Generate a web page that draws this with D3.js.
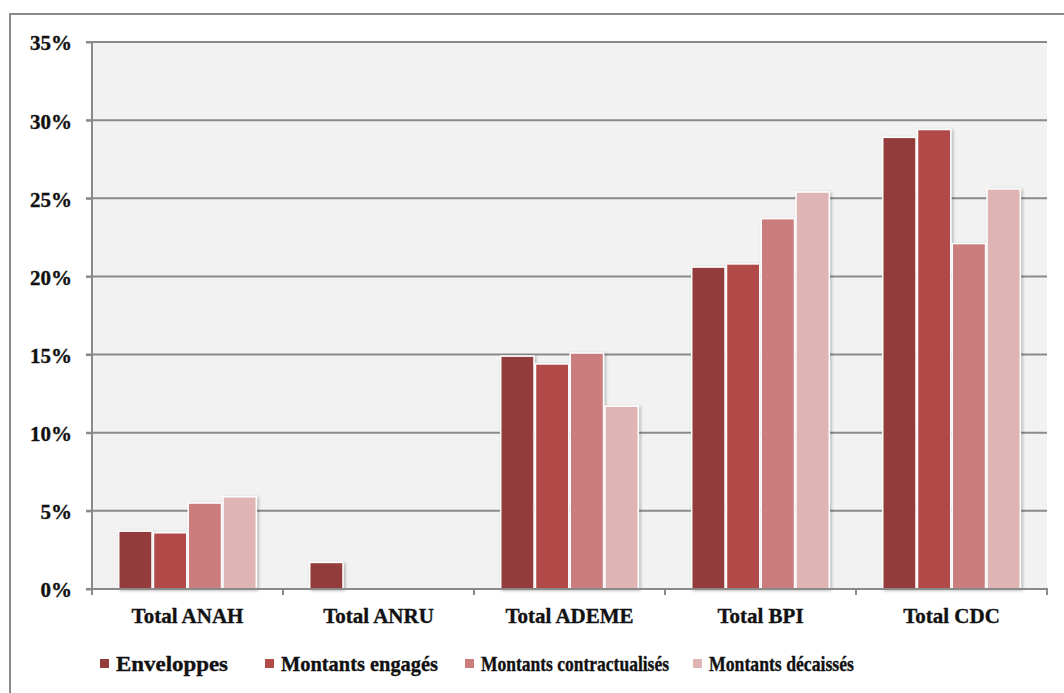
<!DOCTYPE html>
<html>
<head>
<meta charset="utf-8">
<script src="https://cdn.jsdelivr.net/npm/d3@7/dist/d3.min.js"></script>
<style>
  html, body { margin: 0; padding: 0; background: #fff; }
  svg { display: block; }
  text { font-family: "Liberation Serif", "DejaVu Serif", serif; font-weight: bold; fill: #111; stroke: #111; stroke-width: 0.35px; }
</style>
</head>
<body>
<svg id="chart" width="1064" height="693"></svg>
<script>
// Share of each financing body, by type of amount
const categories = ["Total ANAH", "Total ANRU", "Total ADEME", "Total BPI", "Total CDC"];
const seriesNames = ["Enveloppes", "Montants engagés", "Montants contractualisés", "Montants décaissés"];
const enveloppes      = [3.7, 1.7, 14.9, 20.6, 28.9];
const engages         = [3.6, 0,   14.4, 20.8, 29.4];
const contractualises = [5.5, 0,   15.1, 23.7, 22.1];
const decaisses       = [5.9, 0,   11.7, 25.4, 25.6];
const yTicks = [0, 5, 10, 15, 20, 25, 30, 35];
const colors = ["#943b3b", "#b24a48", "#cb7c7b", "#dfb4b4"];

const series = [enveloppes, engages, contractualises, decaisses];

const svg = d3.select("#chart");
const plot = { left: 92, right: 1047, top: 42, bottom: 589 };

// drop shadow for the bars
const defs = svg.append("defs");
const f = defs.append("filter").attr("id", "shadow")
  .attr("x", "-20%").attr("y", "-20%").attr("width", "140%").attr("height", "140%");
f.append("feDropShadow").attr("dx", 1.5).attr("dy", 1).attr("stdDeviation", 1.5)
  .attr("flood-color", "#000").attr("flood-opacity", 0.28);

// outer frame
svg.append("rect").attr("x", 10).attr("y", 14).attr("width", 1070).attr("height", 700)
  .attr("fill", "none").attr("stroke", "#898989").attr("stroke-width", 2);

// plot background
svg.append("rect").attr("x", plot.left).attr("y", plot.top)
  .attr("width", plot.right - plot.left).attr("height", plot.bottom - plot.top)
  .attr("fill", "#f2f2f2");

const y = d3.scaleLinear().domain([0, 35]).range([plot.bottom, plot.top]);
const x0 = d3.scaleBand().domain(categories).range([plot.left, plot.right])
  .paddingInner(0.272).paddingOuter(0.136);
const x1 = d3.scaleBand().domain(d3.range(series.length)).range([0, x0.bandwidth()]);

// gridlines
svg.append("g").selectAll("line").data(yTicks.filter(t => t > 0)).join("line")
  .attr("x1", plot.left - 6).attr("x2", plot.right)
  .attr("y1", d => y(d)).attr("y2", d => y(d))
  .attr("stroke", "#8a8a8a").attr("stroke-width", 2);

// y axis labels and ticks
const yAxis = d3.axisLeft(y).tickValues(yTicks).tickSize(6).tickPadding(14)
  .tickFormat(d => d + "%");
const gy = svg.append("g").attr("transform", `translate(${plot.left},0)`).call(yAxis);
gy.select(".domain").remove();
gy.selectAll(".tick line").attr("stroke", "#8a8a8a").attr("stroke-width", 2);
gy.selectAll(".tick text").attr("font-size", 21).attr("fill", "#111")
  .attr("font-family", "Liberation Serif, serif").attr("font-weight", "bold").attr("dy", "0.38em");

// bars
const groups = svg.append("g").selectAll("g").data(categories).join("g")
  .attr("transform", d => `translate(${x0(d)},0)`);
groups.selectAll("rect")
  .data((c, i) => series.map((s, k) => ({ k, v: s[i] })).filter(d => d.v > 0))
  .join("rect")
  .attr("x", d => x1(d.k) + 0.75)
  .attr("width", x1.bandwidth() - 1.5)
  .attr("y", d => y(d.v))
  .attr("height", d => y(0) - y(d.v))
  .attr("fill", d => colors[d.k])
  .attr("stroke", "#fff").attr("stroke-width", 1.5)
  .attr("filter", "url(#shadow)");

// axes lines
svg.append("line").attr("x1", plot.left).attr("x2", plot.left)
  .attr("y1", plot.top).attr("y2", plot.bottom + 6)
  .attr("stroke", "#8a8a8a").attr("stroke-width", 2);

const bounds = categories.map(c => x0(c) - x0.step() * x0.paddingOuter()).concat([plot.right]);
svg.append("line").attr("x1", plot.left - 6).attr("x2", plot.right + 1)
  .attr("y1", plot.bottom).attr("y2", plot.bottom)
  .attr("stroke", "#8a8a8a").attr("stroke-width", 2);
svg.append("g").selectAll("line").data(bounds).join("line")
  .attr("x1", d => d).attr("x2", d => d)
  .attr("y1", plot.bottom).attr("y2", plot.bottom + 6)
  .attr("stroke", "#8a8a8a").attr("stroke-width", 2);

// category labels
svg.append("g").selectAll("text").data(categories).join("text")
  .attr("x", d => x0(d) + x0.bandwidth() / 2)
  .attr("y", 623)
  .attr("text-anchor", "middle")
  .attr("font-size", 21)
  .text(d => d);

// legend: marker x position and text width of each entry
const legendX = [100, 265, 465, 693];
const legendW = [112, 157, 188, 145];
const lg = svg.append("g").selectAll("g").data(seriesNames).join("g")
  .attr("transform", (d, i) => `translate(${legendX[i]},0)`);
lg.append("rect").attr("x", 0).attr("y", 659).attr("width", 9).attr("height", 9)
  .attr("fill", (d, i) => colors[i]);
lg.append("text").attr("x", 16).attr("y", 671).attr("font-size", 21)
  .attr("textLength", (d, i) => legendW[i]).attr("lengthAdjust", "spacingAndGlyphs")
  .text(d => d);
</script>
</body>
</html>
